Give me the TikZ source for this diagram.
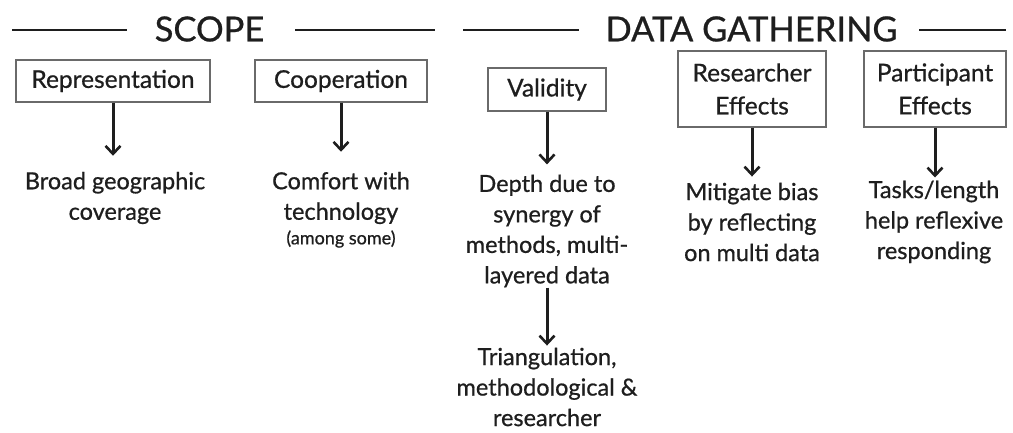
\documentclass[tikz,border=0pt]{standalone}
\usepackage{fontspec}
\setmainfont{Lato}[FakeBold=0.7]
\usetikzlibrary{arrows.meta}
\definecolor{ink}{HTML}{1E1E1E}
\definecolor{frame}{HTML}{6A6A6A}
\begin{document}
\begin{tikzpicture}[x=1pt,y=-1pt,
  every node/.style={text=ink},
  head/.style={font=\fontsize{34.5}{34.5}\selectfont},
  rule/.style={draw=ink,line width=2.8pt},
  box/.style={draw=frame,line width=1.2pt,fill=white,inner sep=0pt,align=center,
    font=\fontsize{24.5}{33}\selectfont},
  note/.style={align=center,inner sep=0pt,font=\fontsize{23.5}{30.5}\selectfont},
  small/.style={align=center,inner sep=0pt,font=\fontsize{18}{20}\selectfont},
  arr/.style={draw=ink,line width=3pt,-{Straight Barb[length=8pt,width=15pt,line width=2.6pt]}}]
\useasboundingbox (0,0) rectangle (1013,433);
\fill[white] (0,0) rectangle (1013,433);

% section headings with their rules
\node[head] (scope) at (209.5,29) {SCOPE};
\node[head] (gather) at (751.5,29) {DATA GATHERING};
\coordinate (r1a) at (12,30);  \coordinate (r1b) at (127,30);
\coordinate (r2a) at (295,30); \coordinate (r2b) at (435,30);
\coordinate (r3a) at (463,30); \coordinate (r3b) at (579,30);
\coordinate (r4a) at (919,30); \coordinate (r4b) at (1006,30);
\draw[rule] (r1a) -- (r1b);
\draw[rule] (r2a) -- (r2b);
\draw[rule] (r3a) -- (r3b);
\draw[rule] (r4a) -- (r4b);

% boxed factors
\node[box,minimum width=194pt,minimum height=42pt] (rep) at (113,81) {Representation};
\node[box,minimum width=172pt,minimum height=42pt] (coop) at (341,81) {Cooperation};
\node[box,minimum width=118pt,minimum height=43pt] (val) at (547,89.5) {Validity};
\node[box,minimum width=148pt,minimum height=76pt] (res) at (752,89) {Researcher\\Effects};
\node[box,minimum width=142pt,minimum height=76pt] (par) at (935,89) {Participant\\Effects};

% outcomes
\node[note] (broad) at (115,198) {Broad geographic\\coverage};
\node[note] (comf) at (341,198) {Comfort with\\technology};
\node[small] (among) at (341,239) {(among some)};
\node[note] (depth) at (547,231) {Depth due to\\synergy of\\methods, multi-\\layered data};
\node[note] (tri) at (547,387) {Triangulation,\\methodological \&\\researcher};
\node[note] (mit) at (752,222) {Mitigate bias\\by reflecting\\on multi data};
\node[note] (task) at (934,222) {Tasks/length\\help reflexive\\responding};

% connectors
\draw[arr,shorten >=16pt] (rep.south) -- (rep.south |- broad.north);
\draw[arr,shorten >=20pt] (coop.south) -- (coop.south |- comf.north);
\draw[arr,shorten >=10pt] (val.south) -- (val.south |- depth.north);
\draw[arr,shorten >=6pt] (res.south) -- (res.south |- mit.north);
\draw[arr,shorten >=3pt] (par.south) -- (par.south |- task.north);
\draw[arr,shorten >=2pt] (depth.south) -- (tri.north);
\end{tikzpicture}
\end{document}
